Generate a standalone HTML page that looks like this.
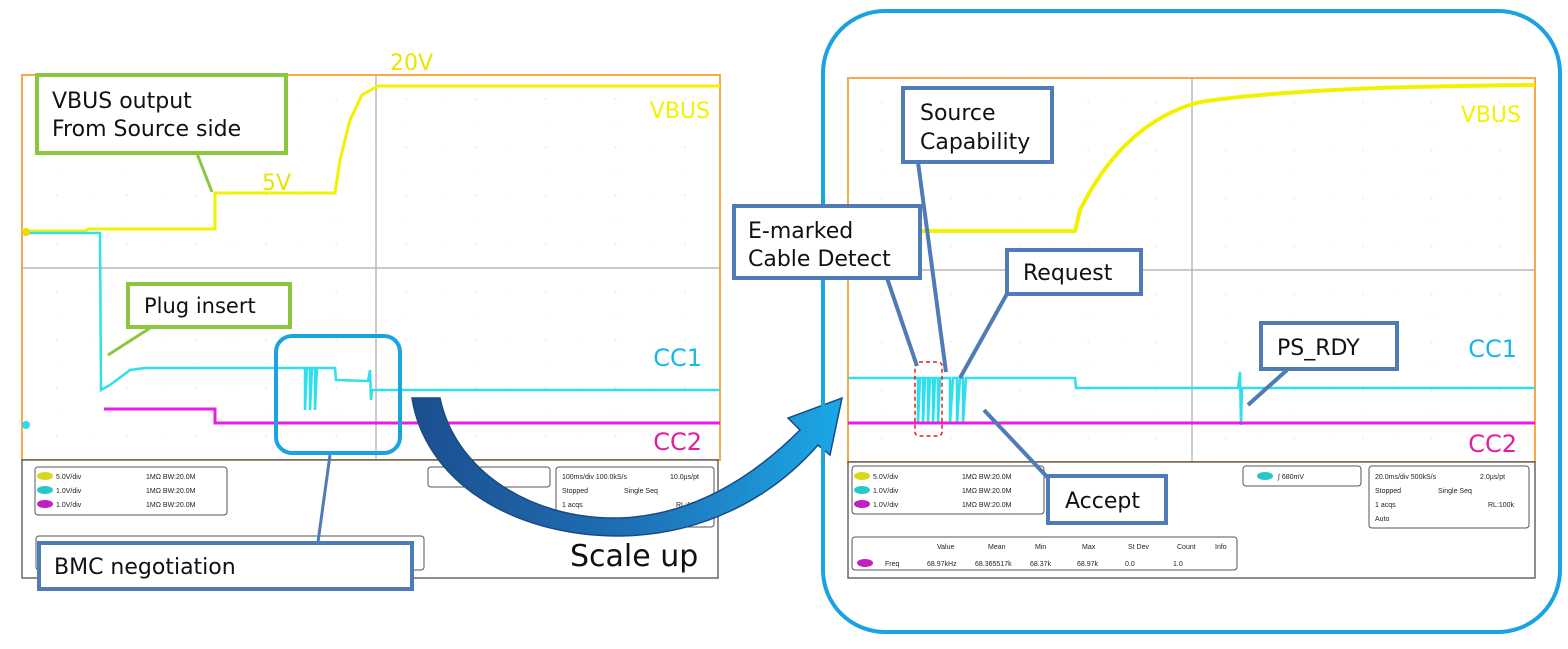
<!DOCTYPE html>
<html><head><meta charset="utf-8"><style>
html,body{margin:0;padding:0;background:#fff;width:1568px;height:649px;overflow:hidden}
svg{display:block}
text{font-family:"DejaVu Sans","Liberation Sans",sans-serif}
.sm{font-size:7px;fill:#222;font-family:"Liberation Sans",sans-serif}
</style></head><body>
<svg width="1568" height="649" viewBox="0 0 1568 649" xmlns="http://www.w3.org/2000/svg">
<defs>
<pattern id="g1" x="22" y="75" width="69.8" height="48.1" patternUnits="userSpaceOnUse">
<circle cx="0" cy="24" r="0.6" fill="#ccc"/><circle cx="35" cy="0" r="0.6" fill="#ccc"/><circle cx="35" cy="24" r="0.6" fill="#ccc"/>
</pattern>
<pattern id="g2" x="848" y="78" width="68.7" height="48" patternUnits="userSpaceOnUse">
<circle cx="0" cy="24" r="0.6" fill="#ccc"/><circle cx="34" cy="0" r="0.6" fill="#ccc"/><circle cx="34" cy="24" r="0.6" fill="#ccc"/>
</pattern>
<linearGradient id="arr" x1="0" y1="0" x2="1" y2="0">
<stop offset="0" stop-color="#1c4f8f"/><stop offset="0.5" stop-color="#1f6fb5"/><stop offset="1" stop-color="#1aa8e6"/>
</linearGradient>
</defs>

<!-- LEFT SCOPE -->
<rect x="22" y="75" width="698" height="385" fill="#fff" stroke="#f5a94a" stroke-width="2"/>
<rect x="22" y="75" width="698" height="385" fill="url(#g1)"/>
<line x1="22" y1="268" x2="720" y2="268" stroke="#aaa" stroke-width="1.2"/>
<line x1="376" y1="75" x2="376" y2="460" stroke="#aaa" stroke-width="1.2"/>
<!-- traces left -->
<polyline points="22,231 85,231 88,229 215,229 215,193 335,193 340,160 350,120 362,95 378,86 720,86" fill="none" stroke="#f2f200" stroke-width="3"/>
<polyline points="22,233 100,233 101,390 110,385 130,370 145,368 305,368 305,410 307,368 310,368 310,410 312,368 315,368 315,410 317,368 335,368 336,380 368,381 370,370 371,400 372,390 720,390" fill="none" stroke="#2fe0ec" stroke-width="2.5"/>
<polyline points="104,409 215,409 215,423 720,423" fill="none" stroke="#e81ce8" stroke-width="3"/>
<circle cx="26" cy="232" r="4" fill="#f2d800"/>
<circle cx="26" cy="425" r="4" fill="#2fd8e8"/>
<text x="390" y="70" font-size="22" fill="#e6e600">20V</text>
<text x="262" y="190" font-size="22" fill="#e6e600">5V</text>
<text x="710" y="118" font-size="22" fill="#f2f200" text-anchor="end">VBUS</text>
<text x="702" y="366" font-size="24" fill="#1ab6e6" text-anchor="end">CC1</text>
<text x="702" y="450" font-size="24" fill="#e0209c" text-anchor="end">CC2</text>
<!-- left info panel -->
<rect x="22" y="460" width="696" height="118" fill="#fff" stroke="#444" stroke-width="1.2"/>
<rect x="35" y="467" width="192" height="48" rx="3" fill="none" stroke="#555"/>
<ellipse cx="45" cy="476" rx="8" ry="4" fill="#d8d820"/><text x="56" y="479" class="sm">5.0V/div</text><text x="146" y="479" class="sm">1MΩ  BW:20.0M</text>
<ellipse cx="45" cy="490" rx="8" ry="4" fill="#28c8c8"/><text x="56" y="493" class="sm">1.0V/div</text><text x="146" y="493" class="sm">1MΩ  BW:20.0M</text>
<ellipse cx="45" cy="504" rx="8" ry="4" fill="#c020c0"/><text x="56" y="507" class="sm">1.0V/div</text><text x="146" y="507" class="sm">1MΩ  BW:20.0M</text>
<rect x="428" y="467" width="122" height="20" rx="3" fill="none" stroke="#555"/>
<rect x="556" y="467" width="158" height="60" rx="3" fill="none" stroke="#555"/>
<text x="562" y="479" class="sm">100ms/div 100.0kS/s</text><text x="670" y="479" class="sm">10.0µs/pt</text>
<text x="562" y="493" class="sm">Stopped</text><text x="624" y="493" class="sm">Single Seq</text>
<text x="562" y="507" class="sm">1 acqs</text><text x="676" y="507" class="sm">RL:100k</text>
<rect x="36" y="536" width="388" height="34" rx="3" fill="none" stroke="#555"/>
<text x="570" y="566" font-size="30" fill="#111">Scale up</text>

<!-- blue highlight -->
<rect x="276" y="336" width="124" height="117" rx="16" fill="none" stroke="#1aa3e0" stroke-width="4"/>

<!-- curved arrow -->
<path d="M412,398 L440,398 C455,470 530,520 620,518 C700,515 760,470 800,430 L788,418 L842,398 L830,455 L818,445 C770,500 700,535 620,536 C510,536 425,480 412,398 Z" fill="url(#arr)" stroke="#1a4a85" stroke-width="1.5"/>

<!-- green callouts -->
<line x1="196" y1="151" x2="212" y2="192" stroke="#8cc63f" stroke-width="3"/>
<rect x="37" y="75" width="249" height="78" fill="#fff" stroke="#8cc63f" stroke-width="4"/>
<text x="52" y="108" font-size="22" fill="#111">VBUS output</text>
<text x="52" y="136" font-size="22" fill="#111">From Source side</text>
<line x1="150" y1="328" x2="108" y2="355" stroke="#8cc63f" stroke-width="3"/>
<rect x="128" y="284" width="162" height="43" fill="#fff" stroke="#8cc63f" stroke-width="4"/>
<text x="144" y="313" font-size="21" fill="#111">Plug insert</text>
<!-- BMC -->
<line x1="318" y1="542" x2="330" y2="455" stroke="#4f7cb6" stroke-width="3"/>
<rect x="39" y="543" width="373" height="46" fill="#fff" stroke="#4f7cb6" stroke-width="4"/>
<text x="54" y="574" font-size="22" fill="#111">BMC negotiation</text>

<!-- RIGHT BIG FRAME -->
<rect x="823" y="11" width="737" height="621" rx="62" fill="none" stroke="#1aa3e0" stroke-width="4"/>
<rect x="848" y="78" width="687" height="384" fill="#fff" stroke="#f5a94a" stroke-width="2"/>
<rect x="848" y="78" width="687" height="384" fill="url(#g2)"/>
<line x1="848" y1="270" x2="1535" y2="270" stroke="#aaa" stroke-width="1.2"/>
<line x1="1192" y1="78" x2="1192" y2="462" stroke="#aaa" stroke-width="1.2"/>
<path d="M848,231 L1075,231 L1080,210 C1110,150 1150,115 1200,102 C1280,90 1400,86 1535,85" fill="none" stroke="#f2f200" stroke-width="4"/>
<polyline points="848,378 918,378 918,424 920,378 923,378 923,424 925,378 928,378 928,424 930,378 933,378 933,424 935,378 938,378 938,424 940,378 950,378 950,424 953,378 957,378 957,424 960,378 963,378 963,424 966,378 1075,378 1076,388 1238,388 1240,372 1241,425 1242,388 1535,388" fill="none" stroke="#2fe0ec" stroke-width="2.5"/>
<line x1="848" y1="423" x2="1535" y2="423" stroke="#e81ce8" stroke-width="3"/>
<text x="1521" y="122" font-size="22" fill="#f2f200" text-anchor="end">VBUS</text>
<text x="1517" y="357" font-size="24" fill="#1ab6e6" text-anchor="end">CC1</text>
<text x="1517" y="452" font-size="24" fill="#e0209c" text-anchor="end">CC2</text>
<rect x="915" y="362" width="27" height="74" rx="4" fill="none" stroke="#e02020" stroke-width="1.5" stroke-dasharray="4,3"/>
<!-- right info panel -->
<rect x="848" y="462" width="687" height="116" fill="#fff" stroke="#444" stroke-width="1.2"/>
<rect x="852" y="466" width="192" height="48" rx="3" fill="none" stroke="#555"/>
<ellipse cx="862" cy="476" rx="8" ry="4" fill="#d8d820"/><text x="873" y="479" class="sm">5.0V/div</text><text x="962" y="479" class="sm">1MΩ  BW:20.0M</text>
<ellipse cx="862" cy="490" rx="8" ry="4" fill="#28c8c8"/><text x="873" y="493" class="sm">1.0V/div</text><text x="962" y="493" class="sm">1MΩ  BW:20.0M</text>
<ellipse cx="862" cy="504" rx="8" ry="4" fill="#c020c0"/><text x="873" y="507" class="sm">1.0V/div</text><text x="962" y="507" class="sm">1MΩ  BW:20.0M</text>
<rect x="1243" y="466" width="118" height="20" rx="3" fill="none" stroke="#555"/>
<ellipse cx="1265" cy="476" rx="8" ry="4" fill="#28c8c8"/><text x="1278" y="479" class="sm">∫ 680mV</text>
<rect x="1369" y="466" width="160" height="62" rx="3" fill="none" stroke="#555"/>
<text x="1375" y="479" class="sm">20.0ms/div 500kS/s</text><text x="1480" y="479" class="sm">2.0µs/pt</text>
<text x="1375" y="493" class="sm">Stopped</text><text x="1438" y="493" class="sm">Single Seq</text>
<text x="1375" y="507" class="sm">1 acqs</text><text x="1488" y="507" class="sm">RL:100k</text>
<text x="1375" y="521" class="sm">Auto</text>
<rect x="852" y="537" width="385" height="33" rx="3" fill="none" stroke="#555"/>
<text x="937" y="549" class="sm">Value</text><text x="988" y="549" class="sm">Mean</text><text x="1035" y="549" class="sm">Min</text><text x="1082" y="549" class="sm">Max</text><text x="1128" y="549" class="sm">St Dev</text><text x="1177" y="549" class="sm">Count</text><text x="1215" y="549" class="sm">Info</text>
<ellipse cx="865" cy="563" rx="8" ry="4" fill="#c020c0"/><text x="885" y="566" class="sm">Freq</text><text x="927" y="566" class="sm">68.97kHz</text><text x="975" y="566" class="sm">68.365517k</text><text x="1030" y="566" class="sm">68.37k</text><text x="1077" y="566" class="sm">68.97k</text><text x="1125" y="566" class="sm">0.0</text><text x="1173" y="566" class="sm">1.0</text>

<!-- right callouts -->
<g stroke="#4f7cb6" stroke-width="4">
<line x1="887" y1="278" x2="917" y2="366"/>
<line x1="918" y1="162" x2="946" y2="372"/>
<line x1="1008" y1="292" x2="960" y2="378"/>
<line x1="1050" y1="480" x2="984" y2="410"/>
<line x1="1287" y1="370" x2="1248" y2="405"/>
</g>
<g fill="#fff" stroke="#4f7cb6" stroke-width="4">
<rect x="903" y="88" width="149" height="74"/>
<rect x="734" y="206" width="186" height="72"/>
<rect x="1007" y="250" width="134" height="44"/>
<rect x="1261" y="323" width="136" height="46"/>
<rect x="1048" y="476" width="118" height="47"/>
</g>
<g font-size="22" fill="#111">
<text x="920" y="120">Source</text><text x="920" y="149">Capability</text>
<text x="748" y="238">E-marked</text><text x="748" y="266">Cable Detect</text>
<text x="1023" y="280">Request</text>
<text x="1277" y="355">PS_RDY</text>
<text x="1065" y="508">Accept</text>
</g>
</svg>
</body></html>
